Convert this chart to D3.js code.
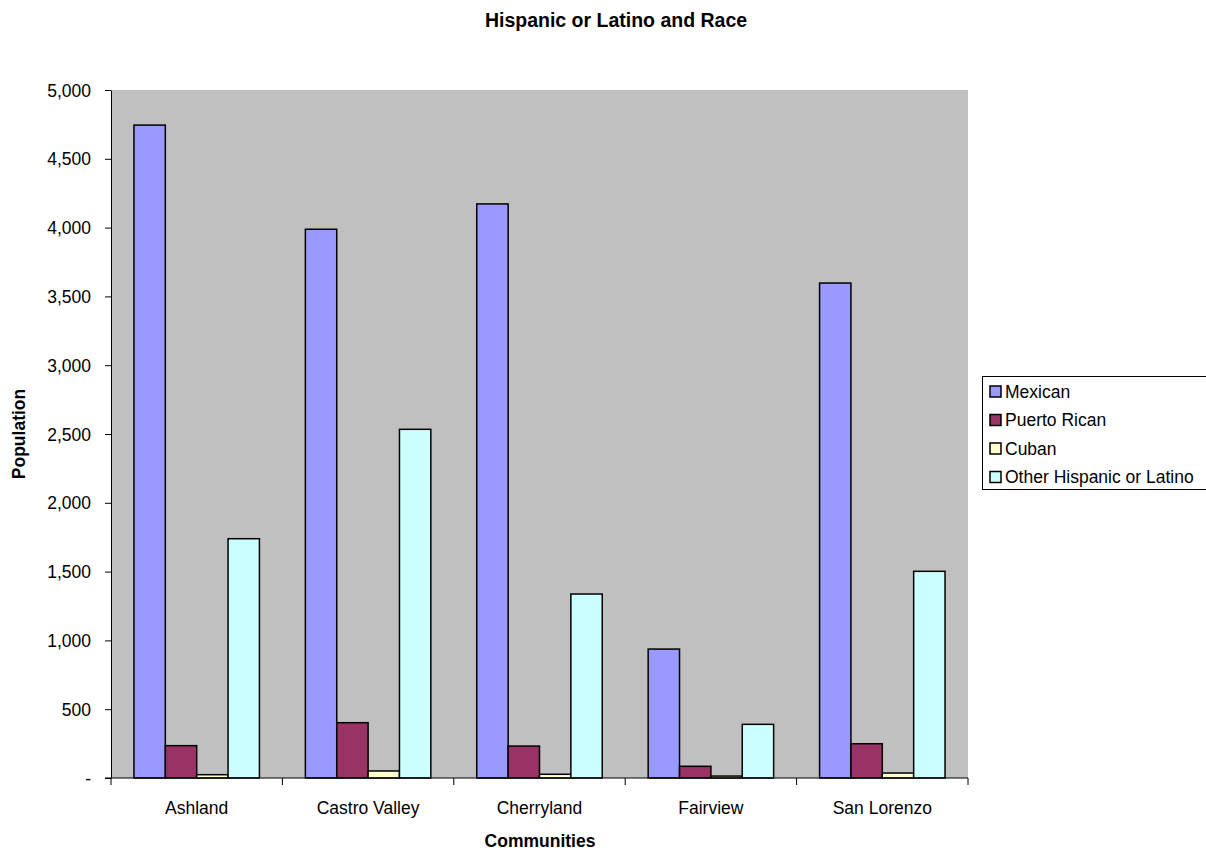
<!DOCTYPE html>
<html><head><meta charset="utf-8">
<script src="https://cdn.jsdelivr.net/npm/d3@7"></script>
<style>body{margin:0;background:#fff}svg{display:block}text{font-family:"Liberation Sans",Arial,sans-serif}</style>
</head><body>
<svg id="c" width="1206" height="852"></svg>
<script>
const categories = ["Ashland","Castro Valley","Cherryland","Fairview","San Lorenzo"];
const seriesNames = ["Mexican","Puerto Rican","Cuban","Other Hispanic or Latino"];
const mexican = [4745, 3988, 4172, 937, 3597];
const puertoRican = [235, 402, 232, 85, 249];
const cuban = [24, 51, 27, 14, 36];
const otherHispanic = [1739, 2534, 1337, 390, 1502];
const yTicks = [0,500,1000,1500,2000,2500,3000,3500,4000,4500,5000];
const colors = ["#9999FF","#993366","#FFFFCC","#CCFFFF"];
const seriesValues = [mexican, puertoRican, cuban, otherHispanic];

const svg = d3.select("#c");
const L = 111, R = 968, T = 90, B = 778;
const x0 = d3.scaleBand().domain(categories).range([L, R]).paddingInner(0).paddingOuter(0);
const groupPad = 0.134;
const x1 = d3.scaleBand().domain(seriesNames).range([x0.bandwidth()*groupPad, x0.bandwidth()*(1-groupPad)]);
const y = d3.scaleLinear().domain([0,5000]).range([B, T]);

svg.append("rect").attr("x",L).attr("y",T).attr("width",R-L).attr("height",B-T).attr("fill","#C0C0C0");

const g = svg.append("g");
categories.forEach((c,ci)=>{
  seriesNames.forEach((s,si)=>{
    const v = seriesValues[si][ci];
    g.append("rect")
      .attr("x", x0(c)+x1(s)).attr("y", y(v))
      .attr("width", x1.bandwidth()).attr("height", B - y(v))
      .attr("fill", colors[si]).attr("stroke","#000").attr("stroke-width",1.5);
  });
});

// y axis
const yAxis = d3.axisLeft(y).tickValues(yTicks).tickSize(6).tickSizeOuter(0)
  .tickFormat(d => d===0 ? "-" : d3.format(",")(d));
const ya = svg.append("g").attr("transform",`translate(${L},0)`).call(yAxis);
ya.attr("font-size",null).attr("font-family",null);
ya.selectAll("text").style("font-size","17.5px").attr("fill","#000").attr("x",-20).attr("dy","0.35em");
ya.selectAll("line").attr("stroke","#000");
ya.select(".domain").attr("stroke","#000");

// x axis
const xa = svg.append("g").attr("transform",`translate(0,${B})`);
xa.append("line").attr("x1",L-6).attr("x2",R).attr("y1",0).attr("y2",0).attr("stroke","#000");
const bounds = categories.map(c=>x0(c)).concat([R]);
xa.selectAll("line.t").data(bounds).enter().append("line").attr("class","t")
  .attr("x1",d=>d).attr("x2",d=>d).attr("y1",0).attr("y2",7).attr("stroke","#000");
xa.selectAll("text").data(categories).enter().append("text")
  .attr("x",d=>x0(d)+x0.bandwidth()/2).attr("y",36).attr("text-anchor","middle")
  .style("font-size","17.5px").text(d=>d);

// titles
svg.append("text").attr("x",616).attr("y",27).attr("text-anchor","middle")
  .style("font-size","19.5px").attr("font-weight","bold").text("Hispanic or Latino and Race");
svg.append("text").attr("x",540).attr("y",847).attr("text-anchor","middle")
  .style("font-size","17.5px").attr("font-weight","bold").text("Communities");
svg.append("text").attr("transform","translate(24.5,434) rotate(-90)").attr("text-anchor","middle")
  .style("font-size","17.5px").attr("font-weight","bold").text("Population");

// legend
const lg = svg.append("g");
lg.append("rect").attr("x",982.5).attr("y",376.5).attr("width",240).attr("height",113)
  .attr("fill","#fff").attr("stroke","#000");
seriesNames.forEach((s,i)=>{
  const yy = 391.5 + i*28.5;
  lg.append("rect").attr("x",990).attr("y",yy-5.5).attr("width",11).attr("height",11)
    .attr("fill",colors[i]).attr("stroke","#000").attr("stroke-width",1.5);
  lg.append("text").attr("x",1005).attr("y",yy).attr("dy","0.35em").style("font-size","17.5px").text(s);
});
</script>
</body></html>
